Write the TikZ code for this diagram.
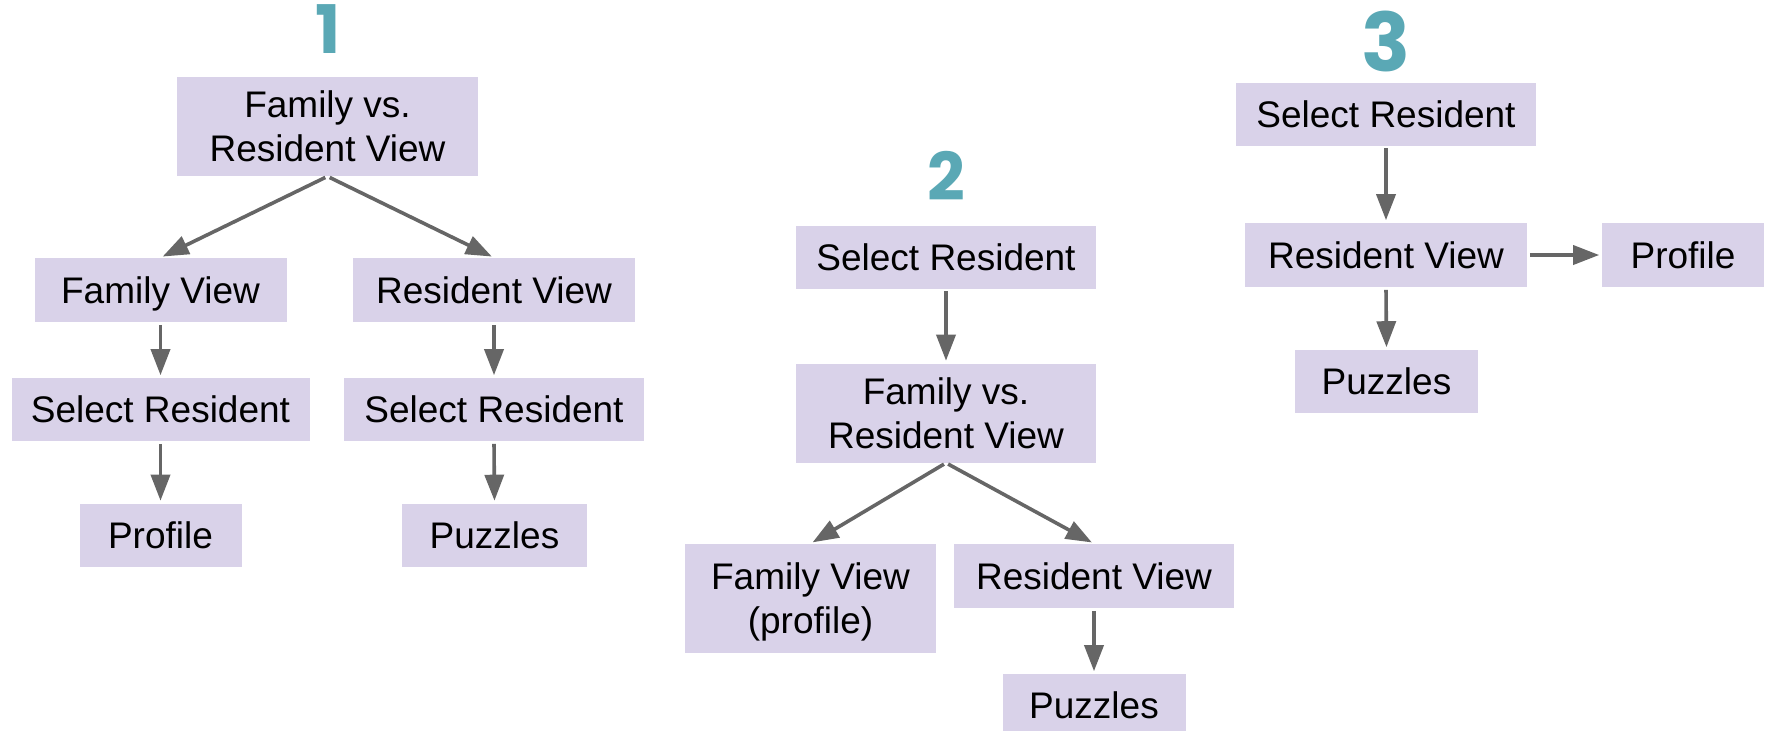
\documentclass[tikz,border=0pt]{standalone}
\usepackage{fontspec}
\setmainfont{Liberation Sans}
\newfontfamily\numfont{Poppins}
\usetikzlibrary{arrows.meta}
\definecolor{boxfill}{HTML}{D9D2E9}
\definecolor{arrowgray}{HTML}{666666}
\definecolor{numteal}{HTML}{5AA8B5}
\begin{document}
\begin{tikzpicture}[x=0.5pt,y=-0.5pt,
  bx/.style 2 args={fill=boxfill, inner sep=0pt, align=center,
    font=\fontsize{18.5}{22}\selectfont,
    minimum width=#1*0.5pt, minimum height=#2*0.5pt},
  single/.style={text height=13.3pt, text depth=0pt},
  conn/.style={draw=arrowgray, line width=1.8pt,
    -{Triangle[length=13pt,width=9.5pt]}, shorten <=1.2pt, shorten >=1.2pt},
  num/.style={text=numteal, font=\numfont\bfseries\fontsize{#1}{#1}\selectfont,
    anchor=base, inner sep=0pt}]
\useasboundingbox (0,0) rectangle (1769,730);

% ---- Diagram 1 ----
\node[num=33.5] (n1) at (328,53) {1};
\node[bx={301}{99}] (a1) at (327.5,126.5) {Family vs.\\Resident View};
\node[bx={252}{64}, single] (b1) at (160.5,290) {Family View};
\node[bx={282}{64}, single] (c1) at (494,290) {Resident View};
\node[bx={298}{63}, single] (d1) at (160.5,409.5) {Select Resident};
\node[bx={300}{63}, single] (e1) at (494,409.5) {Select Resident};
\node[bx={162}{63}, single] (f1) at (160.5,535) {Profile};
\node[bx={185}{63}, single] (g1) at (494.5,535) {Puzzles};
\draw[conn] (a1.south) -- (b1.north);
\draw[conn] (a1.south) -- (c1.north);
\draw[conn] (b1.south) -- (d1.north);
\draw[conn] (c1.south) -- (e1.north);
\draw[conn] (d1.south) -- (f1.north);
\draw[conn] (e1.south) -- (g1.north);

% ---- Diagram 2 ----
\node[num=33] (n2) at (946,200.7) {2};
\node[bx={300}{63}, single] (a2) at (946,257) {Select Resident};
\node[bx={300}{99}] (b2) at (946,413) {Family vs.\\Resident View};
\node[bx={251}{109}] (c2) at (810.5,598.5) {Family View\\\smash{(profile)}};
\node[bx={280}{64}, single] (d2) at (1094,576) {Resident View};
\node[bx={183}{63}, single] (e2) at (1094,705.5) {Puzzles};
\draw[conn] (a2.south) -- (b2.north);
\draw[conn] (b2.south) -- (c2.north);
\draw[conn] (b2.south) -- (d2.north);
\draw[conn] (d2.south) -- (e2.north);

% ---- Diagram 3 ----
\node[num=40.5] (n3) at (1386,71) {3};
\node[bx={300}{63}, single] (a3) at (1386,114) {Select Resident};
\node[bx={282}{64}, single] (b3) at (1386,255) {Resident View};
\node[bx={162}{64}, single] (c3) at (1683,255) {Profile};
\node[bx={183}{63}, single] (d3) at (1386.5,381.5) {Puzzles};
\draw[conn] (a3.south) -- (b3.north);
\draw[conn] (b3.east) -- (c3.west);
\draw[conn] (b3.south) -- (d3.north);
\end{tikzpicture}
\end{document}
